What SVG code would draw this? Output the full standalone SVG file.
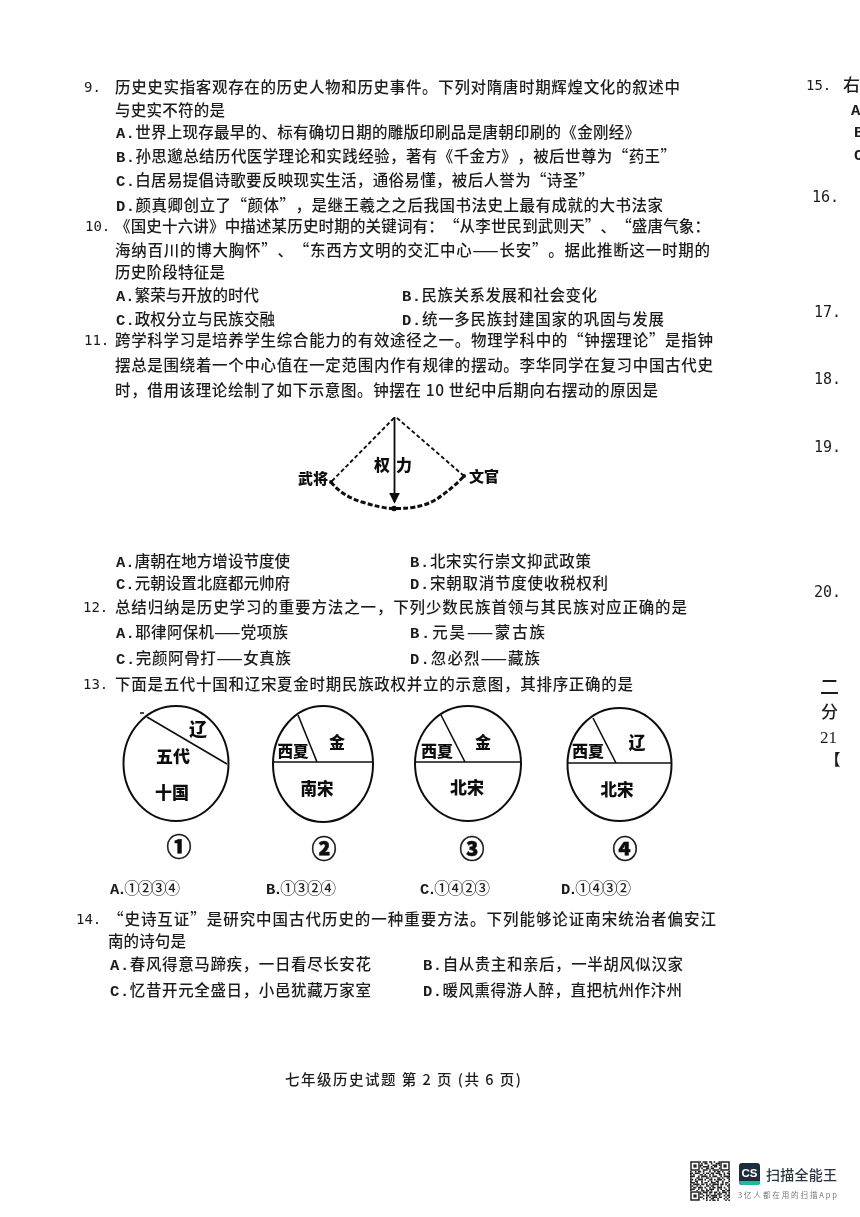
<svg xmlns="http://www.w3.org/2000/svg" width="860" height="1217" viewBox="0 0 860 1217">
<style>
text{font-family:"Noto Sans CJK SC","Noto Sans CJK JP",sans-serif;fill:#1c1c1c;text-spacing-trim:space-all}
.t{font-size:15.5px;font-weight:500}
.m{font-family:"Liberation Mono","DejaVu Sans Mono",monospace;font-weight:700}
.n{font-family:"DejaVu Sans Mono","Liberation Mono",monospace;font-size:14px}
.b{font-weight:900;fill:#111;text-anchor:middle}
.o{font-size:25px;text-anchor:middle;font-weight:900;fill:#111;stroke:#111;stroke-width:.5}
.s{fill:none;stroke:#111;stroke-width:1.6}
.c{fill:none;stroke:#111;stroke-width:2}
.d{fill:none;stroke:#111;stroke-width:1.900;stroke-dasharray:4 2.500}
.a{fill:none;stroke:#111;stroke-width:3;stroke-dasharray:5 2.200}
.q{stroke:#222;stroke-width:1.6;fill:none}
</style>
<defs>
<filter id="soft" x="0" y="0" width="100%" height="100%"><feGaussianBlur stdDeviation="0.35"/></filter>
<marker id="ah" markerWidth="8" markerHeight="8" refX="5" refY="3" orient="auto"><path d="M0 0L6 3L0 6z" fill="#111"/></marker>
<g id="finder"><rect x="0" y="0" width="10" height="10" fill="#fff"/><rect x="1" y="1" width="8" height="8" fill="none" stroke="#222" stroke-width="1.5"/><rect x="3.4" y="3.4" width="3.2" height="3.2" fill="#222"/></g>
</defs>
<rect width="860" height="1217" fill="#fff"/>
<g filter="url(#soft)">
<g id="questions">
<text class="n" x="84" y="92">9.</text>
<text class="t" x="115" y="93" textLength="565">历史史实指客观存在的历史人物和历史事件。下列对隋唐时期辉煌文化的叙述中</text>
<text class="t" x="115" y="116" textLength="110">与史实不符的是</text>
<text class="t" x="116" y="138" textLength="524"><tspan class="m">A.</tspan>世界上现存最早的、标有确切日期的雕版印刷品是唐朝印刷的《金刚经》</text>
<text class="t" x="116" y="162" textLength="560"><tspan class="m">B.</tspan>孙思邈总结历代医学理论和实践经验，著有《千金方》，被后世尊为“药王”</text>
<text class="t" x="116" y="186" textLength="478"><tspan class="m">C.</tspan>白居易提倡诗歌要反映现实生活，通俗易懂，被后人誉为“诗圣”</text>
<text class="t" x="116" y="211" textLength="547"><tspan class="m">D.</tspan>颜真卿创立了“颜体”，是继王羲之之后我国书法史上最有成就的大书法家</text>
<text class="n" x="85" y="231">10.</text>
<text class="t" x="115" y="232" textLength="595">《国史十六讲》中描述某历史时期的关键词有：“从李世民到武则天”、“盛唐气象：</text>
<text class="t" x="115" y="256" textLength="595">海纳百川的博大胸怀”、“东西方文明的交汇中心——长安”。据此推断这一时期的</text>
<text class="t" x="115" y="278" textLength="110">历史阶段特征是</text>
<text class="t" x="116" y="301" textLength="143"><tspan class="m">A.</tspan>繁荣与开放的时代</text>
<text class="t" x="402" y="301" textLength="195"><tspan class="m">B.</tspan>民族关系发展和社会变化</text>
<text class="t" x="116" y="325" textLength="159"><tspan class="m">C.</tspan>政权分立与民族交融</text>
<text class="t" x="402" y="325" textLength="262"><tspan class="m">D.</tspan>统一多民族封建国家的巩固与发展</text>
<text class="n" x="84" y="345">11.</text>
<text class="t" x="115" y="346" textLength="598">跨学科学习是培养学生综合能力的有效途径之一。物理学科中的“钟摆理论”是指钟</text>
<text class="t" x="115" y="371" textLength="598">摆总是围绕着一个中心值在一定范围内作有规律的摆动。李华同学在复习中国古代史</text>
<text class="t" x="115" y="396" textLength="543">时，借用该理论绘制了如下示意图。钟摆在 10 世纪中后期向右摆动的原因是</text>
<text class="t" x="116" y="567" textLength="174"><tspan class="m">A.</tspan>唐朝在地方增设节度使</text>
<text class="t" x="410" y="567" textLength="181"><tspan class="m">B.</tspan>北宋实行崇文抑武政策</text>
<text class="t" x="116" y="589" textLength="174"><tspan class="m">C.</tspan>元朝设置北庭都元帅府</text>
<text class="t" x="410" y="589" textLength="198"><tspan class="m">D.</tspan>宋朝取消节度使收税权利</text>
<text class="n" x="83" y="612">12.</text>
<text class="t" x="115" y="613" textLength="572">总结归纳是历史学习的重要方法之一，下列少数民族首领与其民族对应正确的是</text>
<text class="t" x="116" y="638" textLength="172"><tspan class="m">A.</tspan>耶律阿保机——党项族</text>
<text class="t" x="410" y="638" textLength="135"><tspan class="m">B.</tspan>元昊——蒙古族</text>
<text class="t" x="116" y="664" textLength="175"><tspan class="m">C.</tspan>完颜阿骨打——女真族</text>
<text class="t" x="410" y="664" textLength="130"><tspan class="m">D.</tspan>忽必烈——藏族</text>
<text class="n" x="83" y="689">13.</text>
<text class="t" x="115" y="690" textLength="518">下面是五代十国和辽宋夏金时期民族政权并立的示意图，其排序正确的是</text>
<text class="t" x="110" y="894" textLength="70"><tspan class="m">A.</tspan>①②③④</text>
<text class="t" x="266" y="894" textLength="70"><tspan class="m">B.</tspan>①③②④</text>
<text class="t" x="420" y="894" textLength="70"><tspan class="m">C.</tspan>①④②③</text>
<text class="t" x="561" y="894" textLength="70"><tspan class="m">D.</tspan>①④③②</text>
<text class="n" x="76" y="924">14.</text>
<text class="t" x="108" y="925" textLength="608">“史诗互证”是研究中国古代历史的一种重要方法。下列能够论证南宋统治者偏安江</text>
<text class="t" x="108" y="947" textLength="78">南的诗句是</text>
<text class="t" x="110" y="970" textLength="261"><tspan class="m">A.</tspan>春风得意马蹄疾，一日看尽长安花</text>
<text class="t" x="423" y="970" textLength="260"><tspan class="m">B.</tspan>自从贵主和亲后，一半胡风似汉家</text>
<text class="t" x="110" y="996" textLength="261"><tspan class="m">C.</tspan>忆昔开元全盛日，小邑犹藏万家室</text>
<text class="t" x="423" y="996" textLength="259"><tspan class="m">D.</tspan>暖风熏得游人醉，直把杭州作汴州</text>
<text class="t" x="285" y="1085" textLength="236" style="font-size:14.5px">七年级历史试题 第 2 页 (共 6 页)</text>
</g>

<g id="margin">
<text class="n" x="806" y="90">15.</text>
<text class="t" x="843" y="91" style="font-size:17px">右</text>
<text class="t" x="851" y="115"><tspan class="m">A</tspan></text>
<text class="t" x="854" y="137"><tspan class="m">B</tspan></text>
<text class="t" x="854" y="160"><tspan class="m">C</tspan></text>
<text class="n" x="812" y="202" style="font-size:15px">16.</text>
<text class="n" x="814" y="317" style="font-size:15px">17.</text>
<text class="n" x="814" y="384" style="font-size:15px">18.</text>
<text class="n" x="814" y="452" style="font-size:15px">19.</text>
<text class="n" x="814" y="597" style="font-size:15px">20.</text>
<text class="t" x="820" y="694" style="font-size:19px">二</text>
<text class="t" x="821" y="718" style="font-size:17px">分</text>
<text x="820" y="743" style="font-family:'Liberation Serif',serif;font-size:17px">21</text>
<text class="t" x="825" y="765" style="font-size:15.5px;font-weight:900">【</text>
</g>

<g id="pendulum">
<path class="d" d="M394 418L331 482"/>
<path class="d" d="M397 418L464 476"/>
<path class="a" d="M331 482Q342 496 362 502Q380 508 394 508.500Q425 509 441 496Q454 487 464 476"/>
<path class="s" d="M394.500 417V502" marker-end="url(#ah)" style="stroke-width:1.800"/>
<circle cx="394" cy="508.500" r="2.800" fill="#111"/>
<circle cx="331" cy="482" r="2" fill="#111"/>
<circle cx="464" cy="476" r="2" fill="#111"/>
<text class="b" x="313" y="484" style="font-size:15px">武将</text>
<text class="b" x="484" y="482" style="font-size:15px">文官</text>
<text class="b" x="382" y="471" style="font-size:16px">权</text>
<text class="b" x="404" y="471" style="font-size:16px">力</text>
</g>

<g id="map1">
<ellipse class="c" cx="176" cy="763.500" rx="52.500" ry="57.500"/>
<path class="s" d="M147 717L227 764M140 713H144"/>
<text class="b" x="198" y="736" style="font-size:18px">辽</text>
<text class="b" x="173" y="763" style="font-size:17px">五代</text>
<text class="b" x="172" y="799" style="font-size:17px">十国</text>
<text class="o" x="179" y="856">①</text>
</g>
<g id="map2">
<ellipse class="c" cx="323" cy="764" rx="50" ry="58"/>
<path class="s" d="M273 762H373M298 715L317 762"/>
<text class="b" x="293" y="757" style="font-size:15.500px">西夏</text>
<text class="b" x="337" y="748" style="font-size:16px">金</text>
<text class="b" x="317" y="795" style="font-size:16.500px">南宋</text>
<text class="o" x="324" y="858">②</text>
</g>
<g id="map3">
<ellipse class="c" cx="468" cy="763.500" rx="53" ry="57.500"/>
<path class="s" d="M415 762H521M441 715L465 762"/>
<text class="b" x="437" y="757" style="font-size:16px">西夏</text>
<text class="b" x="483" y="748" style="font-size:16px">金</text>
<text class="b" x="467" y="794" style="font-size:17px">北宋</text>
<text class="o" x="472" y="858">③</text>
</g>
<g id="map4">
<ellipse class="c" cx="619.500" cy="764.500" rx="52" ry="56.500"/>
<path class="s" d="M567 763H672M593 718L616 763"/>
<text class="b" x="588" y="757" style="font-size:16px">西夏</text>
<text class="b" x="637" y="749" style="font-size:17px">辽</text>
<text class="b" x="617" y="796" style="font-size:16.500px">北宋</text>
<text class="o" x="625" y="858">④</text>
</g>

<g id="watermark">
<g class="q" id="qr">
<path stroke-dasharray="3 1.600 1.600 3.200 1.600 1.600 4.800 1.600" d="M690 1162H730"/>
<path stroke-dasharray="1.600 3.200 4.800 1.600 1.600 1.600 3.200 3.200" d="M690 1163.600H730"/>
<path stroke-dasharray="4.800 1.600 1.600 1.600 3.200 4.800 1.600 3.200" d="M690 1165.200H730"/>
<path stroke-dasharray="1.600 1.600 3.200 3.200 1.600 1.600 6.400 1.600" d="M690 1166.800H730"/>
<path stroke-dasharray="3.200 4.800 1.600 1.600 1.600 3.200 3.200 1.600" d="M690 1168.400H730"/>
<path stroke-dasharray="6.400 1.600 1.600 3.200 4.800 1.600 1.600 1.600" d="M690 1170H730"/>
<path stroke-dasharray="1.600 3.200 1.600 1.600 3.200 1.600 1.600 4.800" d="M690 1171.600H730"/>
<path stroke-dasharray="3.200 1.600 4.800 3.200 1.600 1.600 3.200 1.600" d="M690 1173.200H730"/>
<path stroke-dasharray="1.600 1.600 1.600 4.800 3.200 1.600 1.600 3.200" d="M690 1174.800H730"/>
<path stroke-dasharray="4.800 3.200 1.600 1.600 6.400 1.600 1.600 1.600" d="M690 1176.400H730"/>
<path stroke-dasharray="1.600 4.800 3.200 1.600 1.600 3.200 3.200 1.600" d="M690 1178H730"/>
<path stroke-dasharray="3.200 1.600 1.600 1.600 4.800 1.600 1.600 3.200" d="M690 1179.600H730"/>
<path stroke-dasharray="1.600 3.200 3.200 3.200 1.600 4.800 1.600 1.600" d="M690 1181.200H730"/>
<path stroke-dasharray="4.800 1.600 1.600 3.200 1.600 1.600 3.200 3.200" d="M690 1182.800H730"/>
<path stroke-dasharray="1.600 1.600 6.400 1.600 3.200 1.600 1.600 1.600" d="M690 1184.400H730"/>
<path stroke-dasharray="3.200 3.200 1.600 1.600 1.600 4.800 3.200 1.600" d="M690 1186H730"/>
<path stroke-dasharray="1.600 1.600 3.200 1.600 4.800 1.600 1.600 3.200" d="M690 1187.600H730"/>
<path stroke-dasharray="4.800 3.200 1.600 1.600 1.600 3.200 1.600 1.600" d="M690 1189.200H730"/>
<path stroke-dasharray="1.600 4.800 1.600 3.200 3.200 1.600 3.200 1.600" d="M690 1190.800H730"/>
<path stroke-dasharray="3.200 1.600 3.200 1.600 1.600 1.600 4.800 1.600" d="M690 1192.400H730"/>
<path stroke-dasharray="1.600 3.200 1.600 1.600 4.800 3.200 1.600 1.600" d="M690 1194H730"/>
<path stroke-dasharray="6.400 1.600 1.600 3.200 1.600 1.600 3.200 1.600" d="M690 1195.600H730"/>
<path stroke-dasharray="1.600 1.600 4.800 1.600 3.200 3.200 1.600 1.600" d="M690 1197.200H730"/>
<path stroke-dasharray="3.200 3.200 1.600 4.800 1.600 1.600 1.600 3.200" d="M690 1198.800H730"/>
<path stroke-dasharray="1.600 1.600 3.200 1.600 1.600 6.400 1.600 1.600" d="M690 1200.400H730"/>
</g>
<use href="#finder" x="690" y="1161"/>
<use href="#finder" x="720" y="1161"/>
<use href="#finder" x="690" y="1191"/>
<rect x="739" y="1163" width="21" height="22" rx="3" fill="#1f2d3d"/>
<path d="M739 1181H760V1182A3 3 0 0 1 757 1185H742A3 3 0 0 1 739 1182Z" fill="#19bc9c"/>
<text x="749.500" y="1177" style="font-family:'Liberation Sans',sans-serif;font-size:11.500px;font-weight:700;fill:#fff;text-anchor:middle">CS</text>
<text x="766" y="1180" textLength="71" style="font-size:14px;fill:#2a3440;font-weight:500">扫描全能王</text>
<text x="738" y="1198" textLength="99" style="font-size:7.500px;fill:#777">3亿人都在用的扫描App</text>
</g>
</g>
</svg>
